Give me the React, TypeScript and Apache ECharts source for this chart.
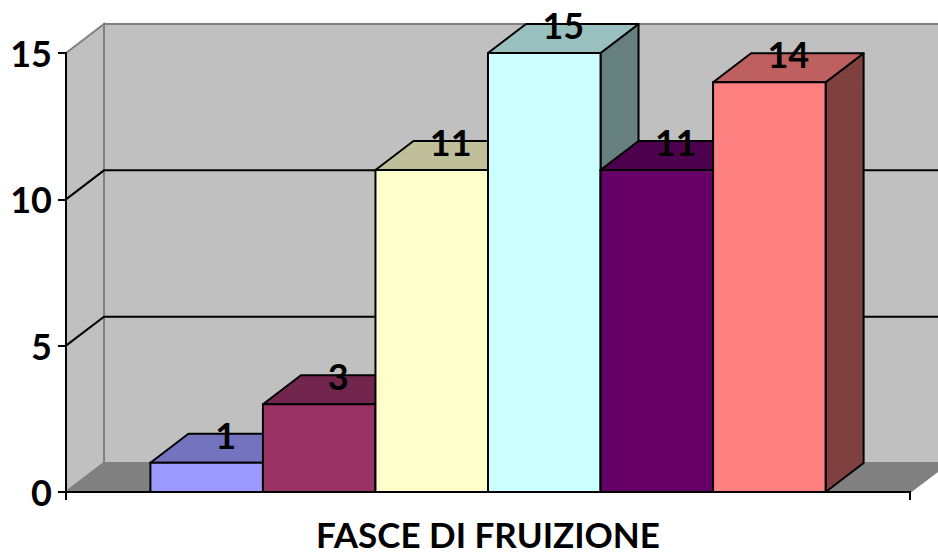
import React, { useEffect, useRef } from "react";
import * as echarts from "echarts";

const category = "FASCE DI FRUIZIONE";
const values = [1, 3, 11, 15, 11, 14];
const barColors = ["#9999FF", "#993366", "#FFFFCC", "#CCFFFF", "#660066", "#FF8080"];
const yTicks = [0, 5, 10, 15];

const DX = 38;
const DY = 29;
const GAP = 1.5;
const FONT = "Lato, 'Open Sans', sans-serif";

function shade(hex: string, f: number): string {
  const n = parseInt(hex.slice(1), 16);
  const r = Math.round(((n >> 16) & 255) * f);
  const g = Math.round(((n >> 8) & 255) * f);
  const b = Math.round((n & 255) * f);
  return `rgb(${r},${g},${b})`;
}

function barGeom(api: any, v: number, i: number) {
  const band = api.size([1, 0])[0];
  const cx = api.coord([0, 0])[0];
  const base = api.coord([0, 0])[1];
  const top = api.coord([0, v])[1];
  const bw = band / (values.length + GAP);
  const x0 = cx - band / 2 + (bw * GAP) / 2 + i * bw;
  return { x0, x1: x0 + bw, top, base, bw };
}

export default function App() {
  const ref = useRef<HTMLDivElement>(null);
  useEffect(() => {
    document.body.style.margin = "0";
    const chart = echarts.init(ref.current as HTMLDivElement, null, { renderer: "svg" });
    const yMax = yTicks[yTicks.length - 1];
    chart.setOption({
      animation: false,
      grid: { left: 66, right: 28, top: 53, bottom: 64 },
      xAxis: {
        type: "category",
        data: [category],
        z: 5,
        axisLine: { lineStyle: { color: "#000", width: 2 } },
        axisTick: { show: true, length: 8, lineStyle: { color: "#000", width: 2 } },
        axisLabel: {
          color: "#000",
          fontFamily: FONT,
          fontWeight: "bold",
          fontSize: 35,
          lineHeight: 34,
          margin: 25,
        },
      },
      yAxis: {
        type: "value",
        min: 0,
        max: yMax,
        interval: 5,
        z: 5,
        axisLine: { show: true, lineStyle: { color: "#000", width: 2 } },
        axisTick: { show: true, length: 8, lineStyle: { color: "#000", width: 2 } },
        splitLine: { show: false },
        axisLabel: {
          color: "#000",
          fontFamily: FONT,
          fontWeight: "bold",
          fontSize: 36,
          margin: 14,
        },
      },
      series: [
        {
          type: "custom",
          name: "walls",
          z: 1,
          silent: true,
          data: [[0, 0]],
          renderItem: (params: any, api: any) => {
            const cs = params.coordSys;
            const x = cs.x, y = cs.y, w = cs.width, h = cs.height;
            const children: any[] = [
              {
                type: "polygon",
                shape: { points: [[x + DX, y - DY], [x + w + DX, y - DY], [x + w + DX, y + h - DY], [x + DX, y + h - DY]] },
                style: { fill: "#C0C0C0", stroke: "#808080", lineWidth: 2 },
              },
              {
                type: "polygon",
                shape: { points: [[x, y], [x + DX, y - DY], [x + DX, y + h - DY], [x, y + h]] },
                style: { fill: "#C0C0C0", stroke: "#808080", lineWidth: 2 },
              },
              {
                type: "polygon",
                shape: { points: [[x, y + h], [x + DX, y + h - DY], [x + w + DX, y + h - DY], [x + w, y + h]] },
                style: { fill: "#808080", stroke: "#808080", lineWidth: 2 },
              },
            ];
            yTicks.forEach((t) => {
              if (t <= 0 || t >= yMax) return;
              const py = api.coord([0, t])[1];
              children.push({
                type: "polyline",
                shape: { points: [[x, py], [x + DX, py - DY], [x + w + DX, py - DY]] },
                style: { fill: "none", stroke: "#000", lineWidth: 2 },
              });
            });
            return { type: "group", children };
          },
        },
        {
          type: "custom",
          name: "bars",
          z: 2,
          dimensions: ["x", "y", "idx"],
          encode: { x: 0, y: 1 },
          data: values.map((v, i) => [0, v, i]),
          renderItem: (params: any, api: any) => {
            const v = api.value(1);
            const i = api.value(2);
            const { x0, x1, top, base, bw } = barGeom(api, v, i);
            const c = barColors[i];
            return {
              type: "group",
              children: [
                {
                  type: "polygon",
                  shape: { points: [[x1, top], [x1 + DX, top - DY], [x1 + DX, base - DY], [x1, base]] },
                  style: { fill: shade(c, 0.5), stroke: "#000", lineWidth: 2, lineJoin: "round" },
                },
                {
                  type: "polygon",
                  shape: { points: [[x0, top], [x0 + DX, top - DY], [x1 + DX, top - DY], [x1, top]] },
                  style: { fill: shade(c, 0.75), stroke: "#000", lineWidth: 2, lineJoin: "round" },
                },
                {
                  type: "rect",
                  shape: { x: x0, y: top, width: bw, height: base - top },
                  style: { fill: c, stroke: "#000", lineWidth: 2 },
                },
              ],
            };
          },
        },
        {
          type: "custom",
          name: "labels",
          z: 10,
          dimensions: ["x", "y", "idx"],
          encode: { x: 0, y: 1 },
          data: values.map((v, i) => [0, v, i]),
          renderItem: (params: any, api: any) => {
            const v = api.value(1);
            const i = api.value(2);
            const { x0, x1, top } = barGeom(api, v, i);
            return {
              type: "text",
              x: (x0 + x1) / 2 + DX / 2,
              y: top - DY + 1,
              style: {
                text: String(v),
                fill: "#000",
                font: `bold 36px ${FONT}`,
                align: "center",
                verticalAlign: "middle",
                textAlign: "center",
                textVerticalAlign: "middle",
              },
            };
          },
        },
      ],
    });
    return () => chart.dispose();
  }, []);
  return <div ref={ref} style={{ width: 938, height: 556 }} />;
}
